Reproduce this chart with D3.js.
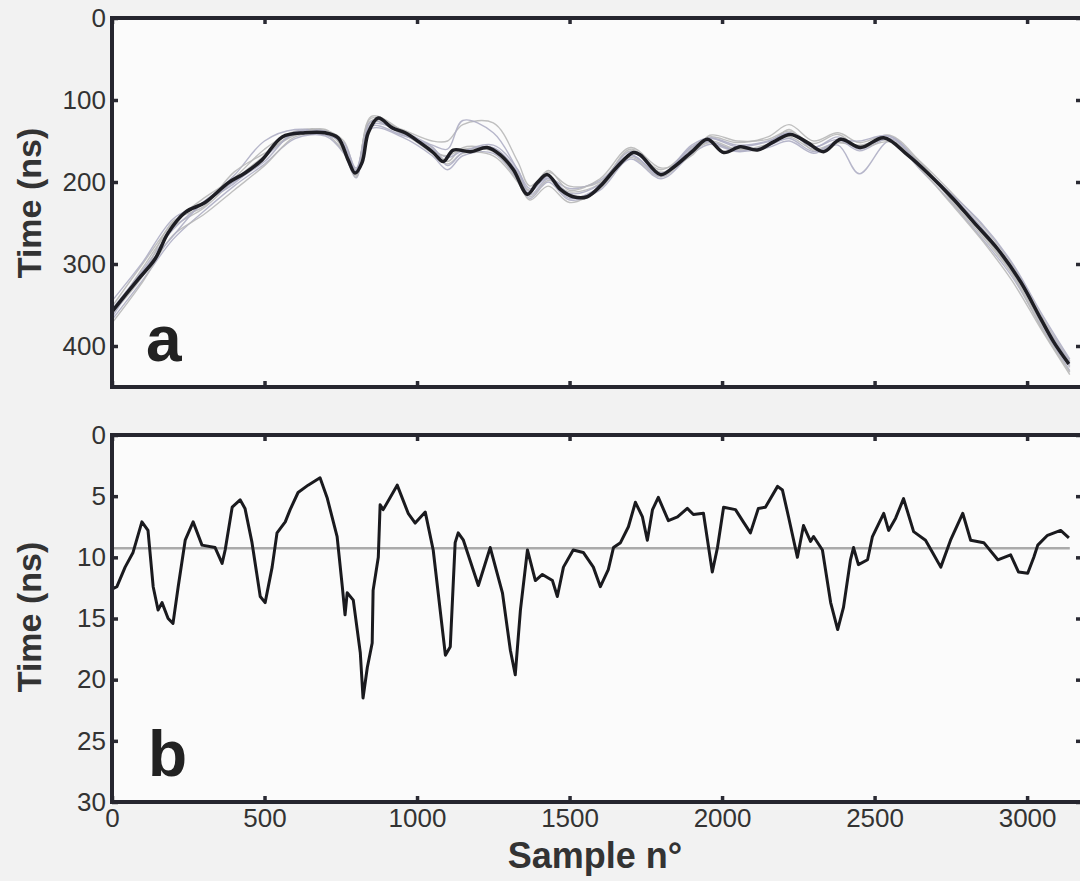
<!DOCTYPE html>
<html>
<head>
<meta charset="utf-8">
<script src="https://cdn.jsdelivr.net/npm/d3@7"></script>
<style>
  body { margin: 0; background: #f2f2f2; }
  svg { display: block; font-family: "Liberation Sans", Arial, sans-serif; }
  .tick text { fill: #333; font-size: 26px; font-family: "Liberation Sans", Arial, sans-serif; }
  .tick line { stroke: #2a2a33; stroke-width: 3.5; }
</style>
</head>
<body>
<svg id="chart" width="1080" height="881"></svg>
<script>
// Panel a: mean picked time (ns) vs sample number
const meanX = [0, 85, 141, 184, 240, 305, 381, 436, 492, 558, 633, 699, 741, 774, 797, 820, 840, 873, 919, 961, 1010, 1053, 1086, 1119, 1175, 1230, 1273, 1316, 1362, 1394, 1427, 1470, 1512, 1558, 1601, 1657, 1709, 1732, 1798, 1841, 1907, 1952, 2005, 2060, 2116, 2169, 2224, 2280, 2333, 2389, 2454, 2530, 2608, 2674, 2759, 2825, 2904, 2979, 3045, 3087, 3137];
const meanT = [358, 319, 294, 262, 237, 225, 201, 189, 173, 145, 140, 140, 146, 173, 189, 176, 140, 122, 134, 140, 152, 164, 175, 161, 163, 158, 167, 185, 215, 201, 191, 209, 218, 218, 205, 181, 164, 167, 191, 182, 161, 148, 164, 157, 161, 151, 142, 152, 163, 148, 158, 146, 167, 189, 221, 249, 282, 322, 367, 395, 422];

// Panel a: individual picks (thin traces)
const traceX = [0, 100, 200, 300, 400, 500, 600, 700, 760, 800, 850, 950, 1050, 1100, 1150, 1250, 1330, 1370, 1430, 1500, 1600, 1700, 1800, 1900, 1960, 2050, 2150, 2220, 2300, 2380, 2450, 2550, 2650, 2750, 2850, 2950, 3050, 3140];
const trace1 = [352, 300, 250, 220, 195, 160, 138, 137, 150, 185, 125, 136, 150, 150, 130, 128, 175, 205, 188, 205, 200, 162, 185, 158, 145, 152, 145, 130, 150, 140, 152, 143, 175, 212, 252, 300, 365, 418];
const trace2 = [368, 320, 270, 236, 205, 178, 147, 144, 165, 195, 135, 145, 168, 185, 168, 165, 198, 220, 200, 222, 210, 172, 196, 166, 154, 163, 158, 150, 165, 155, 190, 150, 185, 224, 268, 315, 378, 430];
const trace3 = [362, 305, 255, 232, 198, 168, 140, 139, 158, 192, 122, 142, 158, 175, 158, 162, 190, 218, 198, 212, 202, 160, 188, 165, 150, 160, 155, 136, 162, 152, 155, 148, 182, 220, 262, 310, 375, 426];
const trace4 = [345, 298, 245, 225, 192, 150, 136, 141, 155, 186, 130, 138, 155, 160, 125, 140, 185, 208, 195, 208, 198, 168, 190, 155, 146, 155, 150, 140, 158, 145, 160, 145, 178, 215, 255, 303, 372, 424];
const trace5 = [372, 322, 265, 240, 210, 180, 145, 142, 163, 190, 127, 140, 165, 178, 165, 168, 200, 222, 205, 225, 208, 170, 194, 163, 152, 161, 154, 145, 160, 152, 156, 149, 184, 226, 270, 320, 382, 435];
const trace6 = [355, 308, 258, 226, 202, 170, 141, 138, 158, 188, 126, 141, 160, 170, 162, 158, 188, 212, 193, 214, 203, 163, 189, 160, 147, 157, 151, 141, 157, 148, 162, 147, 179, 217, 257, 304, 368, 420];
const trace7 = [360, 315, 248, 230, 188, 165, 143, 136, 162, 194, 120, 137, 163, 168, 160, 163, 195, 210, 186, 210, 196, 158, 183, 168, 143, 150, 148, 138, 153, 142, 158, 151, 176, 222, 265, 312, 380, 432];
const trace8 = [365, 310, 266, 224, 200, 175, 139, 143, 152, 183, 132, 143, 157, 180, 164, 155, 185, 216, 196, 220, 206, 167, 193, 157, 151, 162, 156, 147, 163, 150, 150, 144, 181, 214, 250, 298, 362, 416];
const traces = [trace1, trace2, trace3, trace4, trace5, trace6, trace7, trace8];

// Panel b: spread (ns) vs sample number
const spreadX = [0, 16, 43, 69, 98, 118, 135, 151, 164, 184, 200, 217, 240, 266, 295, 338, 361, 371, 394, 420, 436, 459, 486, 502, 525, 541, 568, 584, 610, 643, 682, 705, 738, 755, 764, 771, 791, 814, 823, 837, 853, 856, 873, 879, 889, 935, 971, 994, 1027, 1053, 1093, 1109, 1125, 1135, 1152, 1201, 1240, 1280, 1306, 1322, 1339, 1362, 1388, 1411, 1444, 1460, 1480, 1512, 1545, 1578, 1601, 1627, 1644, 1667, 1693, 1716, 1739, 1755, 1772, 1791, 1824, 1854, 1886, 1906, 1939, 1968, 1985, 2005, 2044, 2067, 2093, 2119, 2142, 2182, 2198, 2218, 2247, 2267, 2290, 2300, 2329, 2356, 2379, 2398, 2421, 2431, 2447, 2477, 2493, 2530, 2546, 2569, 2595, 2628, 2667, 2690, 2717, 2749, 2789, 2815, 2858, 2904, 2946, 2972, 3002, 3022, 3035, 3067, 3110, 3137];
const spreadT = [12.6, 12.4, 10.8, 9.6, 7.1, 7.8, 12.4, 14.3, 13.7, 15.0, 15.4, 12.4, 8.6, 7.1, 9.0, 9.2, 10.5, 9.4, 5.9, 5.3, 6.0, 8.8, 13.2, 13.7, 10.8, 8.0, 7.1, 6.1, 4.7, 4.1, 3.5, 5.1, 8.3, 12.4, 14.7, 12.9, 13.5, 17.8, 21.5, 19.0, 17.0, 12.7, 10.0, 5.7, 6.1, 4.1, 6.4, 7.2, 6.3, 9.4, 18.0, 17.3, 8.8, 8.0, 8.6, 12.3, 9.2, 12.9, 17.6, 19.6, 14.3, 9.4, 11.9, 11.4, 11.9, 13.2, 10.8, 9.4, 9.6, 10.8, 12.4, 11.0, 9.2, 8.8, 7.5, 5.5, 6.7, 8.6, 6.1, 5.1, 7.0, 6.7, 6.0, 6.5, 6.4, 11.2, 9.2, 5.9, 6.1, 7.0, 8.0, 6.0, 5.9, 4.2, 4.5, 6.7, 10.0, 7.4, 8.7, 8.3, 9.4, 13.7, 15.9, 14.1, 10.2, 9.2, 10.6, 10.2, 8.3, 6.4, 7.8, 6.8, 5.2, 7.9, 8.6, 9.6, 10.8, 8.6, 6.4, 8.6, 8.8, 10.2, 9.8, 11.2, 11.3, 10.0, 9.0, 8.2, 7.8, 8.4];
const spreadMean = 9.25;
const spreadMeanX = [0, 3140];

const xTicks = [0, 500, 1000, 1500, 2000, 2500, 3000];
const yTicksA = [0, 100, 200, 300, 400];
const yTicksB = [0, 5, 10, 15, 20, 25, 30];

const svg = d3.select("#chart");
const left = 112, right = 1082;
const fmt = d3.format("d");

const x = d3.scaleLinear().domain([0, 3180]).range([left, right]);
const yA = d3.scaleLinear().domain([0, 450]).range([18, 387]);
const yB = d3.scaleLinear().domain([0, 30]).range([435, 802]);

function frame(y, yTicks, showX) {
  const g = svg.append("g");
  const [top, bottom] = y.range();
  g.append("rect")
    .attr("x", left).attr("y", top)
    .attr("width", right - left).attr("height", bottom - top)
    .attr("fill", "#fbfbfb");

  g.append("g")
    .attr("transform", `translate(${left},0)`)
    .call(d3.axisLeft(y).tickValues(yTicks).tickSize(-6).tickPadding(6).tickFormat(fmt))
    .call(s => s.select(".domain").remove());
  g.append("g")
    .attr("transform", `translate(${right},0)`)
    .call(d3.axisRight(y).tickValues(yTicks).tickSize(-6).tickFormat(""))
    .call(s => s.select(".domain").remove());
  g.append("g")
    .attr("transform", `translate(0,${top})`)
    .call(d3.axisTop(x).tickValues(xTicks).tickSize(-6).tickFormat(""))
    .call(s => s.select(".domain").remove());
  const xb = d3.axisBottom(x).tickValues(xTicks).tickSize(-6).tickPadding(7).tickFormat(fmt);
  if (!showX) xb.tickFormat("");
  g.append("g")
    .attr("transform", `translate(0,${bottom})`)
    .call(xb)
    .call(s => s.select(".domain").remove());
  return g;
}

function border(y) {
  const [top, bottom] = y.range();
  svg.append("rect")
    .attr("x", left).attr("y", top)
    .attr("width", right - left).attr("height", bottom - top)
    .attr("fill", "none")
    .attr("stroke", "#26262f")
    .attr("stroke-width", 4);
}

// ---- panel a
frame(yA, yTicksA, false);

const lineTrace = d3.line()
    .x((d, i) => x(traceX[i]))
    .y(d => yA(d))
    .curve(d3.curveCatmullRom);

svg.append("g").selectAll("path")
    .data(traces)
    .join("path")
    .attr("d", lineTrace)
    .attr("fill", "none")
    .attr("stroke", (d, i) => i % 2 ? "#aeaec4" : "#b8b8b8")
    .attr("stroke-width", 1.4)
    .attr("opacity", 0.9);

const lineMean = d3.line()
    .x((d, i) => x(meanX[i]))
    .y(d => yA(d))
    .curve(d3.curveCatmullRom);

svg.append("path")
    .datum(meanT)
    .attr("d", lineMean)
    .attr("fill", "none")
    .attr("stroke", "#1e1e24")
    .attr("stroke-width", 3.5);

border(yA);

svg.append("text")
    .attr("x", 146).attr("y", 361)
    .attr("font-size", 64).attr("font-weight", "bold")
    .attr("fill", "#222")
    .text("a");

// ---- panel b
frame(yB, yTicksB, true);

svg.append("line")
    .attr("x1", x(spreadMeanX[0])).attr("x2", x(spreadMeanX[1]))
    .attr("y1", yB(spreadMean)).attr("y2", yB(spreadMean))
    .attr("stroke", "#aaa")
    .attr("stroke-width", 2.5);

const lineSpread = d3.line()
    .x((d, i) => x(spreadX[i]))
    .y(d => yB(d));

svg.append("path")
    .datum(spreadT)
    .attr("d", lineSpread)
    .attr("fill", "none")
    .attr("stroke", "#1a1a1e")
    .attr("stroke-width", 3)
    .attr("stroke-linejoin", "round");

border(yB);

svg.append("text")
    .attr("x", 148).attr("y", 776)
    .attr("font-size", 64).attr("font-weight", "bold")
    .attr("fill", "#222")
    .text("b");

// ---- axis titles
svg.append("text")
    .attr("transform", "translate(41,203) rotate(-90)")
    .attr("text-anchor", "middle")
    .attr("font-size", 34).attr("font-weight", "bold")
    .attr("fill", "#333")
    .text("Time (ns)");

svg.append("text")
    .attr("transform", "translate(41,617) rotate(-90)")
    .attr("text-anchor", "middle")
    .attr("font-size", 34).attr("font-weight", "bold")
    .attr("fill", "#333")
    .text("Time (ns)");

svg.append("text")
    .attr("x", 595).attr("y", 868)
    .attr("text-anchor", "middle")
    .attr("font-size", 36).attr("font-weight", "bold")
    .attr("fill", "#333")
    .text("Sample n°");
</script>
</body>
</html>
